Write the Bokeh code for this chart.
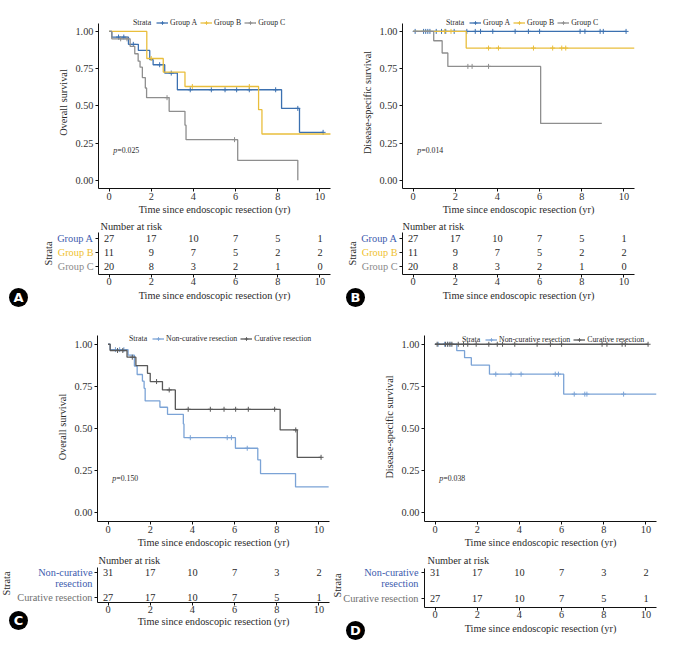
import math
from bokeh.plotting import figure
from bokeh.models import Range1d, FixedTicker, Legend, LegendItem, NumeralTickFormatter, Title, Label
from bokeh.layouts import column, row
from bokeh.core.properties import value
from bokeh.embed import file_html
from bokeh.resources import INLINE

SERIF = "Liberation Serif"

# ---------------- data ----------------
years = [0, 2, 4, 6, 8, 10]
surv_ticks = [0, 0.25, 0.5, 0.75, 1.0]
group_labels = ["Group A", "Group B", "Group C"]
resection_labels = ["Non-curative resection", "Curative resection"]
resection_table_labels = ["Non-curative\nresection", "Curative resection"]
legend_title = "Strata"
x_title = "Time since endoscopic resection (yr)"
table_title = "Number at risk"
panel_letters = ["A", "B", "C", "D"]
p_values = ["0.025", "0.014", "0.150", "0.038"]

# (A) overall survival by group: event times, survival after each event, censor times, last follow-up
os_a_time = [0.13, 0.92, 1.39, 1.93, 2.09, 2.64, 3.24, 8.18, 9.03]
os_a_surv = [0.962, 0.913, 0.872, 0.81, 0.776, 0.72, 0.608, 0.483, 0.322]
os_a_cens = [0.45, 0.7, 1.15, 2.4, 2.95, 3.85, 4.85, 5.5, 6.05, 6.65, 7.9, 8.95, 10.15]
os_a_end = 10.15
os_b_time = [1.79, 2.57, 3.6, 7.09, 7.25]
os_b_surv = [0.818, 0.727, 0.63, 0.474, 0.311]
os_b_cens = [2.0, 3.95, 6.65]
os_b_end = 10.52
os_c_time = [0.13, 1.0, 1.22, 1.38, 1.47, 1.58, 1.72, 1.78, 2.85, 3.6, 3.65, 6.1, 8.95]
os_c_surv = [0.95, 0.90, 0.85, 0.80, 0.76, 0.69, 0.62, 0.555, 0.463, 0.37, 0.273, 0.134, 0.0]
os_c_cens = [0.55, 0.85, 2.75, 5.95]
os_c_end = 8.95

# (B) disease-specific survival by group
dss_a_time = []
dss_a_surv = []
dss_a_cens = [0.1, 0.5, 0.6, 0.7, 0.8, 1.1, 1.35, 1.55, 1.95, 2.55, 2.95, 3.2, 3.78,
              4.84, 5.47, 6.0, 7.92, 8.15, 8.87, 9.02, 10.1]
dss_a_end = 10.1
dss_b_time = [2.52]
dss_b_surv = [0.888]
dss_b_cens = [1.5, 1.8, 3.58, 4.05, 5.71, 6.62, 7.05, 7.24]
dss_b_end = 10.5
dss_c_time = [0.98, 1.38, 1.65, 6.05]
dss_c_surv = [0.937, 0.855, 0.765, 0.382]
dss_c_cens = [2.6, 2.8, 3.58]
dss_c_end = 8.95

# (C) overall survival by resection
os_nc_time = [0.1, 0.95, 1.25, 1.38, 1.63, 1.71, 1.76, 2.46, 2.82, 3.57, 3.6, 6.04, 7.1, 7.23, 8.89]
os_nc_surv = [0.968, 0.935, 0.87, 0.82, 0.78, 0.738, 0.663, 0.625, 0.583, 0.526, 0.444, 0.381, 0.312, 0.23, 0.151]
os_nc_cens = [0.35, 0.55, 0.75, 3.9, 5.65, 5.85, 6.6]
os_nc_end = 10.46
os_cr_time = [0.1, 0.9, 1.32, 1.87, 2.0, 2.58, 3.19, 8.16, 8.97]
os_cr_surv = [0.963, 0.923, 0.873, 0.827, 0.778, 0.728, 0.613, 0.49, 0.327]
os_cr_cens = [0.45, 0.7, 1.15, 2.3, 2.9, 3.8, 4.85, 5.5, 6.05, 6.65, 7.9, 8.9, 10.1]
os_cr_end = 10.1

# (D) disease-specific survival by resection
dss_nc_time = [1.03, 1.4, 1.72, 2.58, 6.1]
dss_nc_surv = [0.962, 0.92, 0.876, 0.822, 0.703]
dss_nc_cens = [0.15, 0.45, 0.6, 0.75, 2.88, 3.6, 4.08, 5.7, 5.85, 6.6, 7.1, 7.2, 8.94]
dss_nc_end = 10.5
dss_cr_time = []
dss_cr_surv = []
dss_cr_cens = [0.1, 0.5, 0.6, 0.7, 0.8, 1.1, 1.35, 1.55, 1.95, 2.55, 2.95, 3.2, 3.78,
               4.84, 5.47, 6.0, 7.92, 8.15, 8.87, 9.02, 10.1]
dss_cr_end = 10.1

# number at risk
risk_group_a = [27, 17, 10, 7, 5, 1]
risk_group_b = [11, 9, 7, 5, 2, 2]
risk_group_c = [20, 8, 3, 2, 1, 0]
risk_noncurative = [31, 17, 10, 7, 3, 2]
risk_curative = [27, 17, 10, 7, 5, 1]

# ---------------- styles ----------------
COL_A, COL_B, COL_C = "#3B70B0", "#E9BE3C", "#8E8E8E"
COL_NC, COL_CR = "#7BA3D6", "#585858"
LAB_A, LAB_B, LAB_C = "#3D5BAE", "#EFC12E", "#8A8A8A"
LAB_NC, LAB_CR = "#3D5BAE", "#707070"
FS = "10.3px"
FS_SMALL = "7.8px"
TXT = "#2a2a2a"
XR = (-0.5, 10.5)
FW = 232


def surv_at(times, survs, t):
    s = 1.0
    for ti, si in zip(times, survs):
        if ti <= t:
            s = si
    return s


def base_fig(w, h, fl, ft, fh, yr):
    p = figure(width=w, height=h, x_range=Range1d(*XR), y_range=Range1d(*yr),
               output_backend="svg", toolbar_location=None, title=None,
               min_border_left=fl, min_border_right=w - fl - FW,
               min_border_top=ft, min_border_bottom=h - ft - fh)
    p.xgrid.visible = False
    p.ygrid.visible = False
    p.outline_line_color = None
    p.background_fill_color = "white"
    p.border_fill_color = "white"
    for ax in p.axis:
        ax.axis_line_color = "#111111"
        ax.axis_line_width = 1
        ax.major_tick_line_color = "#111111"
        ax.major_tick_out = 3
        ax.major_tick_in = 0
        ax.minor_tick_line_color = None
        ax.major_label_text_font = SERIF
        ax.major_label_text_font_size = FS
        ax.major_label_text_color = "#333333"
        ax.axis_label_text_font = SERIF
        ax.axis_label_text_font_size = FS
        ax.axis_label_text_font_style = "normal"
        ax.axis_label_text_color = TXT
    p.xaxis.ticker = FixedTicker(ticks=years)
    p.xaxis.axis_label = x_title
    p.xaxis.major_label_standoff = 1
    p.xaxis.axis_label_standoff = 1
    return p


def km_panel(w, h, fl, ft, fh, yr, ylabel, series, names, colors, legend_xy, pval):
    p = base_fig(w, h, fl, ft, fh, yr)
    p.yaxis.ticker = FixedTicker(ticks=surv_ticks)
    p.yaxis.formatter = NumeralTickFormatter(format="0.00")
    p.yaxis.bounds = (-0.055, 1.055)
    p.yaxis.axis_label = ylabel
    p.yaxis.major_label_standoff = 2
    p.yaxis.axis_label_standoff = 3
    dummy = p.line([], [], line_alpha=0)
    items = [LegendItem(label=legend_title, renderers=[dummy])]
    for (t, s, cens, end), name, col in zip(series, names, colors):
        xs = [0] + list(t) + [end]
        ys = [1.0] + list(s) + [s[-1] if s else 1.0]
        lr = p.step(xs, ys, mode="after", line_color=col, line_width=1.3)
        cy = [surv_at(t, s, c) for c in cens]
        sr = p.scatter(cens, cy, marker="cross", size=5, line_color=col, line_width=1)
        items.append(LegendItem(label=name, renderers=[lr, sr]))
    leg = Legend(items=items, location=legend_xy, orientation="horizontal",
                 glyph_width=12, glyph_height=9, label_height=9, label_standoff=2,
                 spacing=3, padding=0, margin=0, background_fill_alpha=0,
                 border_line_alpha=0, label_text_font=SERIF,
                 label_text_font_size=FS_SMALL, label_text_color=TXT)
    p.add_layout(leg)
    p.add_layout(Label(x=0.2, y=0.2, text="p", text_font=SERIF, text_font_style="italic",
                       text_font_size=FS_SMALL, text_baseline="middle", text_color=TXT))
    p.add_layout(Label(x=0.2, y=0.2, x_offset=4, text="=" + pval, text_font=SERIF,
                       text_font_size=FS_SMALL, text_baseline="middle", text_color=TXT))
    return p


def table_panel(aux_w, tab_w, h, ft, fh, yr, rows, labels, label_colors, counts,
                title_offset, title_standoff, xtitle_standoff, label_right, strata_xy,
                letter, badge_xy):
    fl = 4
    tab = base_fig(tab_w, h, fl, ft, fh, yr)
    tab.yaxis.ticker = FixedTicker(ticks=rows)
    tab.yaxis.major_label_overrides = {r: "" for r in rows}
    tab.yaxis.major_label_standoff = 0
    tab.xaxis.major_label_standoff = 0
    tab.xaxis.axis_label_standoff = xtitle_standoff
    for yv, cnt in zip(rows, counts):
        tab.text(x=years, y=[yv] * len(years), text=[str(c) for c in cnt],
                 text_align="center", text_baseline="middle", text_font=value(SERIF),
                 text_font_size=FS, text_color=TXT)
    tab.add_layout(Title(text=table_title, align="left", offset=title_offset,
                         standoff=title_standoff, text_font=SERIF, text_font_size=FS,
                         text_font_style="normal", text_color=TXT), "above")

    # side figure holding the coloured strata labels, the axis title and the panel badge
    s = (yr[1] - yr[0]) / fh
    ayr = (yr[0] - (h - ft - fh) * s, yr[1] + ft * s)
    aux = figure(width=aux_w, height=h, x_range=Range1d(0, aux_w), y_range=Range1d(*ayr),
                 x_axis_location=None, y_axis_location=None, min_border=0,
                 output_backend="svg", toolbar_location=None, title=None)
    aux.grid.visible = False
    aux.outline_line_color = None
    aux.background_fill_color = "white"
    aux.border_fill_color = "white"

    def ay(ly):
        return ayr[1] - ly * s

    lx, ly, lt, lc = [], [], [], []
    for yv, lab, col in zip(rows, labels, label_colors):
        for k, line in enumerate(lab.split("\n")):
            lx.append(label_right)
            ly.append(yv - 11 * k * s)
            lt.append(line)
            lc.append(col)
    aux.text(x=lx, y=ly, text=lt, text_color=lc, text_align="right", text_baseline="middle",
             text_font=value(SERIF), text_font_size=FS)
    aux.text(x=[strata_xy[0]], y=[ay(strata_xy[1])], text=[legend_title], angle=math.pi / 2,
             text_align="center", text_baseline="middle", text_font=value(SERIF),
             text_font_size=FS, text_color=TXT)
    aux.scatter(x=[badge_xy[0]], y=[ay(badge_xy[1])], marker="circle", size=19,
                fill_color="black", line_color=None)
    aux.text(x=[badge_xy[0]], y=[ay(badge_xy[1])], text=[letter], text_align="center",
             text_baseline="middle", text_font=value("DejaVu Sans"), text_font_style="bold",
             text_font_size="13px", text_color="white")
    return aux, tab


kmA = km_panel(345, 217, 98, 16, 173, (-0.055, 1.10), "Overall survival",
               [(os_a_time, os_a_surv, os_a_cens, os_a_end),
                (os_b_time, os_b_surv, os_b_cens, os_b_end),
                (os_c_time, os_c_surv, os_c_cens, os_c_end)],
               group_labels, [COL_A, COL_B, COL_C], (21, 161), p_values[0])
kmB = km_panel(343, 217, 57, 16, 173, (-0.055, 1.10), "Disease-specific survival",
               [(dss_a_time, dss_a_surv, dss_a_cens, dss_a_end),
                (dss_b_time, dss_b_surv, dss_b_cens, dss_b_end),
                (dss_c_time, dss_c_surv, dss_c_cens, dss_c_end)],
               group_labels, [COL_A, COL_B, COL_C], (30, 161), p_values[1])
auxA, tabA = table_panel(94, 251, 93, 15, 42, (0.43, 3.43), [3, 2, 1], group_labels,
                         [LAB_A, LAB_B, LAB_C], [risk_group_a, risk_group_b, risk_group_c],
                         2, 2, 2, 93, (48, 36), panel_letters[0], (18, 80))
auxB, tabB = table_panel(53, 290, 93, 15, 42, (0.43, 3.43), [3, 2, 1], group_labels,
                         [LAB_A, LAB_B, LAB_C], [risk_group_a, risk_group_b, risk_group_c],
                         0, 2, 2, 52, (7, 36), panel_letters[1], (10, 80))
kmC = km_panel(345, 240, 97, 22, 189, (-0.055, 1.07), "Overall survival",
               [(os_nc_time, os_nc_surv, os_nc_cens, os_nc_end),
                (os_cr_time, os_cr_surv, os_cr_cens, os_cr_end)],
               resection_labels, [COL_NC, COL_CR], (18, 178), p_values[2])
kmD = km_panel(343, 240, 79, 22, 189, (-0.055, 1.07), "Disease-specific survival",
               [(dss_nc_time, dss_nc_surv, dss_nc_cens, dss_nc_end),
                (dss_cr_time, dss_cr_surv, dss_cr_cens, dss_cr_end)],
               resection_labels, [COL_NC, COL_CR], (24, 177), p_values[3])
auxC, tabC = table_panel(93, 238, 97, 17, 35, (0.783, 2.217), [2, 1], resection_table_labels,
                         [LAB_NC, LAB_CR], [risk_noncurative, risk_curative],
                         1, 4, 0, 92, (6, 33), panel_letters[2], (18, 70))
auxD, tabD = table_panel(89, 268, 97, 18, 39, (0.665, 2.165), [2, 1], resection_table_labels,
                         [LAB_NC, LAB_CR], [risk_noncurative, risk_curative],
                         3, 5, 2, 87, (6, 35), panel_letters[3], (24, 80))


def solo(p):
    # wrap each figure on its own so that neighbouring frames are not aligned
    return column(p, spacing=0)


layout = column(row(solo(kmA), solo(kmB)),
                row(solo(auxA), solo(tabA), solo(auxB), solo(tabB)),
                row(solo(kmC), solo(kmD)),
                row(solo(auxC), solo(tabC), solo(auxD), solo(tabD)))

with open("out.html", "w") as f:
    f.write(file_html(layout, INLINE))
